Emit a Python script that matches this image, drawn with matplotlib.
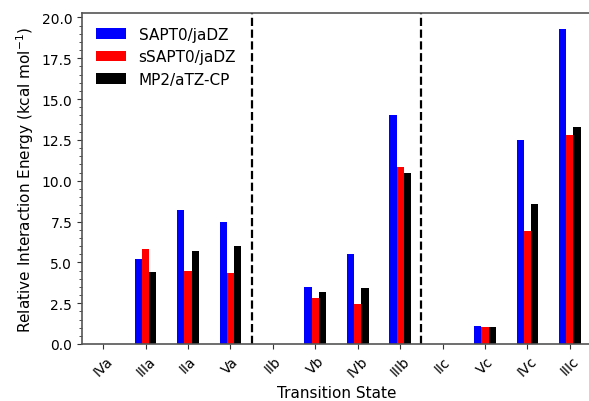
import numpy as np
import matplotlib
matplotlib.use('Agg')
import matplotlib.pyplot as plt
from matplotlib.ticker import MultipleLocator, FormatStrFormatter


# Data
# ----
states = ['IVa', 'IIIa', 'IIa', 'Va', 'IIb', 'Vb', 'IVb', 'IIIb',
          'IIc', 'Vc', 'IVc', 'IIIc']

sapt0 = [0.0, 5.2, 8.2, 7.5, 0.0, 3.5, 5.5, 14.05, 0.0, 1.1, 12.5, 19.3]
ssapt0 = [0.0, 5.8, 4.5, 4.35, 0.0, 2.8, 2.45, 10.85, 0.0, 1.05, 6.9, 12.8]
mp2 = [0.0, 4.4, 5.7, 6.0, 0.0, 3.2, 3.4, 10.45, 0.0, 1.05, 8.55, 13.3]

series = [('SAPT0/jaDZ', sapt0, 'blue'),
          ('sSAPT0/jaDZ', ssapt0, 'red'),
          ('MP2/aTZ-CP', mp2, 'black')]

separators = [3.5, 7.5]


# Figure setup
# ------------
fig = plt.figure(figsize=(5.89, 4.02), dpi=100)
ax = fig.add_axes([82 / 589, 57 / 402, 509 / 589, 331 / 402])

x = np.arange(len(states))
width = 0.17

for i, (label, vals, color) in enumerate(series):
    ax.bar(x + (i - 1) * width, vals, width, color=color, label=label)

for sep in separators:
    ax.axvline(sep, color='black', linestyle='--', linewidth=1.6)

ax.set_xlim(-0.5, 11.5)
ax.set_ylim(0, 20.27)
ax.set_xticks(x)
ax.set_xticklabels(states, rotation=45)
ax.yaxis.set_major_locator(MultipleLocator(2.5))
ax.yaxis.set_minor_locator(MultipleLocator(0.5))
ax.yaxis.set_major_formatter(FormatStrFormatter('%.1f'))

ax.set_xlabel('Transition State', fontsize=11)
ax.set_ylabel(r'Relative Interaction Energy (kcal mol$^{-1}$)', fontsize=11)

for s in ax.spines.values():
    s.set_color('#555555')
    s.set_linewidth(1.2)
ax.tick_params(colors='#333333', which='both')
ax.tick_params(axis='both', labelcolor='black')

ax.legend(loc='upper left', frameon=False, fontsize=11)

fig.savefig('out.png', dpi=100)
